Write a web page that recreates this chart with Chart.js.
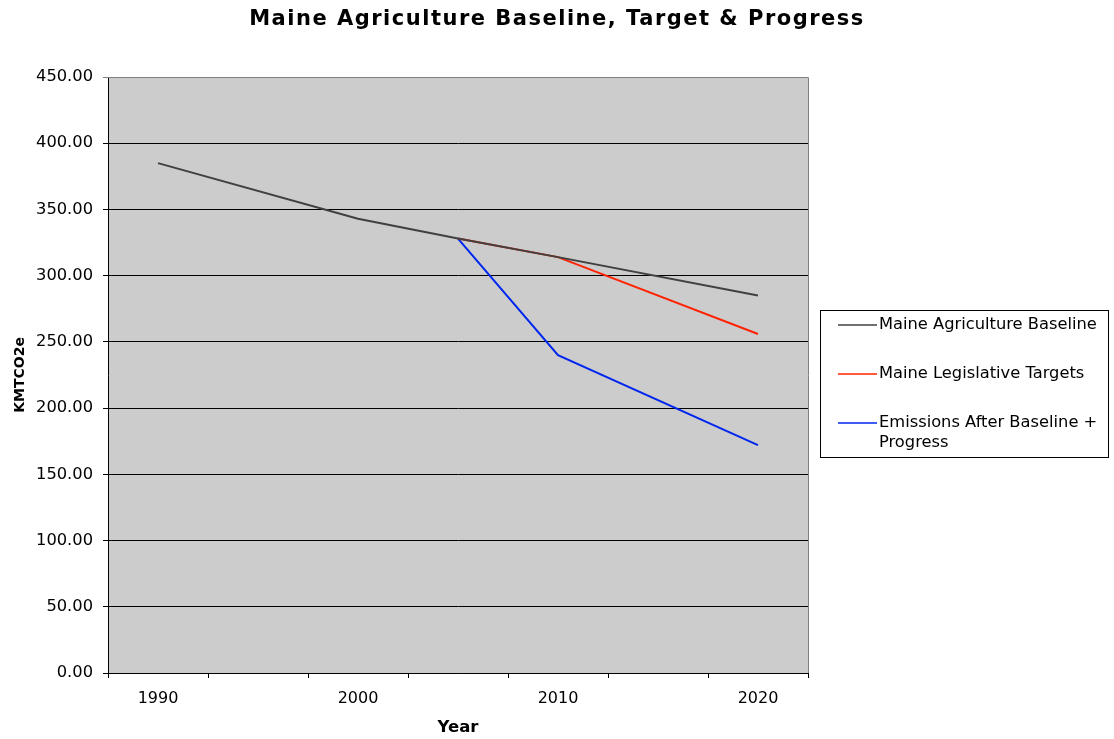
<!DOCTYPE html>
<html><head><meta charset="utf-8">
<script src="https://cdn.jsdelivr.net/npm/chart.js@4"></script>
<style>html,body{margin:0;padding:0;background:#fff}#wrap{width:1114px;height:739px}</style>
</head><body><div id="wrap"><canvas id="c" width="1114" height="739"></canvas></div>
<script>
const categories = ['1990','1995','2000','2005','2010','2015','2020'];
const tickLabels = ['1990','','2000','','2010','','2020'];
const baseline = [385, null, 343, 328, 314, null, 285];
const targets = [null, null, null, 328, 314, null, 256];
const progress = [null, null, null, 328, 240, null, 172];
const seriesNames = ['Maine Agriculture Baseline', 'Maine Legislative Targets', 'Emissions After Baseline + Progress'];
const yTicks = [0, 50, 100, 150, 200, 250, 300, 350, 400, 450];
const chartTitle = 'Maine Agriculture Baseline, Target & Progress';

const FONT = '"DejaVu Sans", Verdana, sans-serif';

const plotBg = {
  id: 'plotBg',
  beforeDraw(chart) {
    const {ctx, chartArea: a} = chart;
    ctx.save();
    ctx.fillStyle = '#cccccc';
    ctx.fillRect(a.left, a.top, a.right - a.left, a.bottom - a.top);
    ctx.restore();
  },
  afterDatasetsDraw(chart) {
    const {ctx, chartArea: a} = chart;
    ctx.save();
    ctx.strokeStyle = '#808080';
    ctx.lineWidth = 1;
    ctx.beginPath();
    ctx.moveTo(a.left, a.top + 0.5);
    ctx.lineTo(a.right + 0.5, a.top + 0.5);
    ctx.lineTo(a.right + 0.5, a.bottom);
    ctx.stroke();
    ctx.restore();
  }
};

const titleAndLegend = {
  id: 'titleAndLegend',
  afterDraw(chart) {
    const ctx = chart.ctx;
    ctx.save();
    // title
    ctx.fillStyle = '#000';
    ctx.font = 'bold 21px ' + FONT;
    ctx.textAlign = 'center';
    ctx.textBaseline = 'middle';
    if ('letterSpacing' in ctx) ctx.letterSpacing = '1.5px';
    ctx.fillText(chartTitle, 557, 20);
    if ('letterSpacing' in ctx) ctx.letterSpacing = '0px';
    // legend
    const x0 = 820.5, y0 = 310.5, w = 288, h = 147;
    ctx.fillStyle = '#fff';
    ctx.fillRect(x0, y0, w, h);
    ctx.strokeStyle = '#000';
    ctx.lineWidth = 1;
    ctx.strokeRect(x0, y0, w, h);
    ctx.font = '16.3px ' + FONT;
    ctx.textBaseline = 'middle';
    ctx.textAlign = 'left';
    const rows = [[seriesNames[0]], [seriesNames[1]], ['Emissions After Baseline +', 'Progress']];
    const ys = [325, 374, 423];
    chart.data.datasets.forEach((ds, i) => {
      ctx.strokeStyle = ds.borderColor;
      ctx.lineWidth = 1.5;
      ctx.beginPath();
      ctx.moveTo(838, ys[i]);
      ctx.lineTo(877, ys[i]);
      ctx.stroke();
      ctx.fillStyle = '#000';
      rows[i].forEach((t, j) => ctx.fillText(t, 879, ys[i] + j * 20));
    });
    ctx.restore();
  }
};

new Chart(document.getElementById('c'), {
  type: 'line',
  data: {
    labels: categories,
    datasets: [
      {label: seriesNames[0], data: baseline, borderColor: '#404040', borderWidth: 2, pointRadius: 0, spanGaps: true, tension: 0},
      {label: seriesNames[1], data: targets, borderColor: '#ff2200', borderWidth: 2, pointRadius: 0, spanGaps: true, tension: 0},
      {label: seriesNames[2], data: progress, borderColor: '#0026ee', borderWidth: 2, pointRadius: 0, spanGaps: true, tension: 0}
    ]
  },
  options: {
    responsive: false,
    animation: false,
    layout: {padding: {top: 77, left: 0, right: 306, bottom: 0}},
    plugins: {
      legend: {display: false},
      tooltip: {enabled: false},
      title: {display: false}
    },
    scales: {
      x: {
        offset: true,
        afterFit(s) { s.height = 66; },
        grid: {offset: true, drawOnChartArea: false, tickLength: 5, color: '#000', lineWidth: 1},
        border: {display: true, color: '#000', width: 1},
        ticks: {
          autoSkip: false, maxRotation: 0, padding: 11, color: '#000',
          font: {family: FONT, size: 16},
          callback: (v, i) => tickLabels[i]
        },
        title: {display: true, text: 'Year', color: '#000', font: {family: FONT, size: 16.5, weight: 'bold'}, padding: {top: 0, bottom: 1}}
      },
      y: {
        min: 0, max: 450,
        afterFit(s) { s.width = 108; },
        afterBuildTicks(s) { s.ticks = yTicks.map(v => ({value: v})); },
        grid: {tickLength: 5, color: (c) => c.tick && c.tick.value === 450 ? '#808080' : '#000', lineWidth: 1},
        border: {display: true, color: '#000', width: 1},
        ticks: {padding: 10, color: '#000', font: {family: FONT, size: 16.3}, callback: v => Number(v).toFixed(2)},
        title: {display: true, text: 'KMTCO2e', color: '#000', font: {family: FONT, size: 14, weight: 'bold'}, padding: {top: 12, bottom: 0}}
      }
    }
  },
  plugins: [plotBg, titleAndLegend]
});
</script></body></html>
